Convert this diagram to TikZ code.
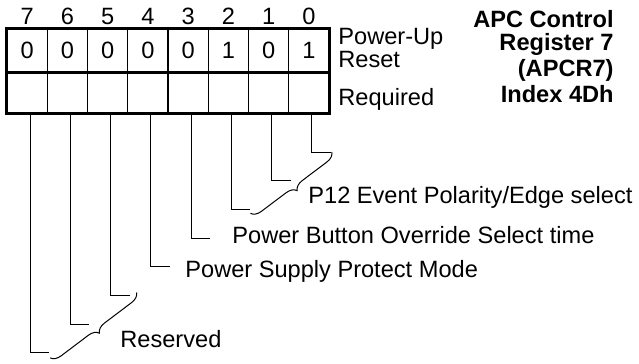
\documentclass[tikz,border=0pt]{standalone}
\usepackage{fontspec}
\setmainfont{Liberation Sans}
\usepackage{tikz}
\usetikzlibrary{decorations.pathreplacing,calc}
\tikzset{
  cell/.style={draw,line width=0.6pt,inner sep=0pt,minimum width=20.125pt,
    font=\fontsize{11.8}{14}\selectfont},
  bitnum/.style={anchor=base,inner sep=0pt,font=\fontsize{11.8}{14}\selectfont},
  lbl/.style={anchor=base west,inner sep=0pt,font=\fontsize{11.8}{14}\selectfont},
  titletext/.style={anchor=base east,inner sep=0pt,font=\fontsize{11.8}{14}\selectfont\bfseries},
  frame/.style={line width=1.5pt},
  lead/.style={line width=0.5pt},
  bracelead/.style={lead,decorate,decoration={brace,amplitude=5pt}},
}
\begin{document}
\begin{tikzpicture}[x=0.5pt,y=-0.5pt]
  \useasboundingbox (0,0) rectangle (639,364);
  % register cells, bit 7 on the left
  \foreach \v [count=\i from 0] in {0,0,0,0,0,1,0,1}
  {
    \pgfmathtruncatemacro\b{7-\i}
    \node[cell,minimum height=21.5pt] (v\b) at ({27.125+40.25*\i},50.5) {\v};
    \node[cell,minimum height=20.5pt] (r\b) at ({27.125+40.25*\i},92.5) {};
    \node[bitnum] (n\b) at ({27.125+40.25*\i},25) {\b};
    \coordinate (e\b) at ({49.125+40.25*\i},{152+28.7*\b});
  }
  \draw[frame] (v7.north west) rectangle (r0.south east);
  \draw[frame] (v7.south west) -- (v0.south east);

  \node[lbl] (pu) at (338,45) {Power-Up};
  \node[lbl] (rs) at (338,68) {Reset};
  \node[lbl] (rq) at (338,105) {Required};
  \foreach \y/\t [count=\k] in {27/{APC Control},50/{Register 7},76/{(APCR7)},103/{Index 4Dh}}
    \node[titletext] (t\k) at (614,\y) {\t};

  % leads to the field descriptions
  \foreach \b in {0,...,7}
    \draw[lead] ([xshift=1.5pt]r\b.south) |- (e\b);
  \draw[bracelead] ([shift={(1,0)}]e0) -- ([shift={(0,4)}]e2);
  \draw[bracelead] ([shift={(7,-3)}]e5) -- ([shift={(1,5)}]e7);

  \node[lbl] (p12) at (308,203) {P12 Event Polarity/Edge select};
  \node[lbl] (pbo) at (232,243) {Power Button Override Select time};
  \node[lbl] (psp) at (185,278) {Power Supply Protect Mode};
  \node[lbl] (rsv) at (120,347) {Reserved};
\end{tikzpicture}
\end{document}
